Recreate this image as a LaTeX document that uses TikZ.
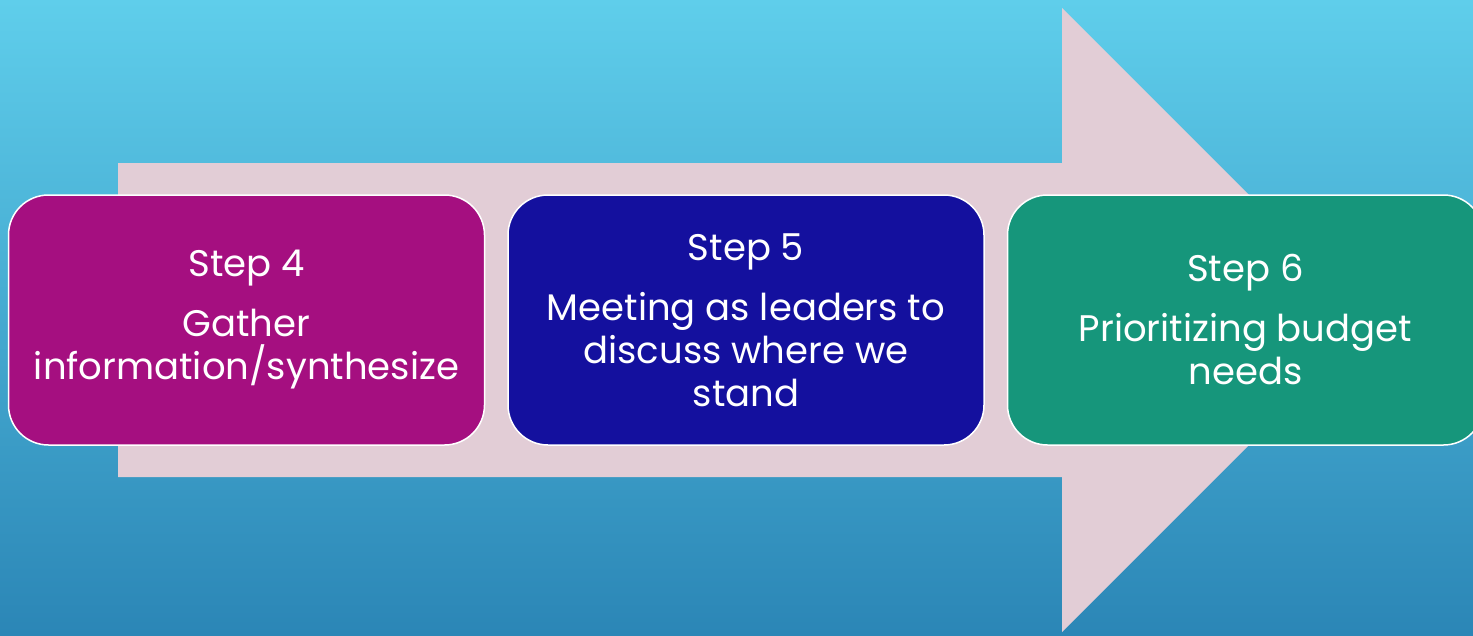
\documentclass[tikz,border=0pt]{standalone}
\usepackage{fontspec}
\setmainfont{Poppins}
\usetikzlibrary{positioning}
\definecolor{skytop}{RGB}{95,206,235}
\definecolor{skybottom}{RGB}{43,134,182}
\definecolor{arrowpink}{RGB}{226,205,214}
\definecolor{stepmagenta}{RGB}{165,15,128}
\definecolor{stepblue}{RGB}{20,16,158}
\definecolor{stepgreen}{RGB}{22,150,123}
\tikzset{
  stepbox/.style={draw=white, line width=1.5pt, rounded corners=40pt,
    minimum width=476pt, minimum height=250pt, inner sep=0pt,
    text=white, align=center, font=\fontsize{37}{43}\selectfont}
}
\begin{document}
\begin{tikzpicture}[x=1pt, y=-1pt, node distance=22pt]
  \pgfmathsetmacro{\shaftleft}{118}
  \pgfmathsetmacro{\headx}{1062}
  \pgfmathsetmacro{\tipx}{1374}
  \useasboundingbox (0,0) rectangle (1473,635);
  \clip (0,0) rectangle (1473,635);
  % background
  \shade [top color=skytop, bottom color=skybottom] (0,0) rectangle (1473,635);
  % big arrow
  \fill [arrowpink]
    (\shaftleft,163) -- (\headx,163) -- (\headx,8) -- (\tipx,320)
    -- (\headx,632) -- (\headx,477) -- (\shaftleft,477) -- cycle;
  % steps
  \node [stepbox, fill=stepmagenta] (step4) at (246.5,320)
    {Step 4\\[17pt] Gather\\ information/synthesize};
  \node [stepbox, fill=stepblue, right=of step4] (step5)
    {Step 5\\[17pt] Meeting as leaders to\\ discuss where we\\ stand};
  \node [stepbox, fill=stepgreen, right=of step5] (step6)
    {Step 6\\[17pt] Prioritizing budget\\ needs};
\end{tikzpicture}
\end{document}
